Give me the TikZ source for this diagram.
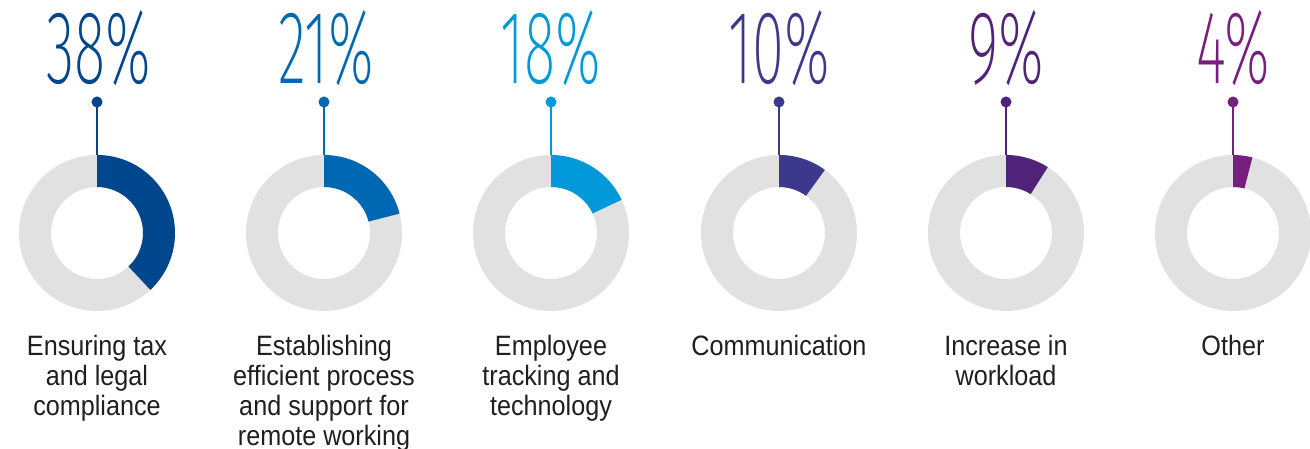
\documentclass[tikz,border=0pt]{standalone}
\usepackage{fontspec}
\setmainfont{Liberation Sans}
\newfontfamily\pctfont{Fira Sans ExtraLight}
\usepackage{xcolor}

\definecolor{taxblue}{RGB}{0,70,140}
\definecolor{processblue}{RGB}{0,104,178}
\definecolor{trackblue}{RGB}{0,152,216}
\definecolor{commviolet}{RGB}{60,56,140}
\definecolor{loadpurple}{RGB}{80,35,120}
\definecolor{otherpurple}{RGB}{118,32,125}
\definecolor{ringgray}{RGB}{225,225,225}

\begin{document}
\begin{tikzpicture}[
                x=1pt, y=1pt,
                ring/.style={fill=ringgray, even odd rule},
                pct/.style={font=\pctfont\fontsize{104}{104}\selectfont, anchor=base, inner sep=0pt, xscale=0.56},
                dot/.style={circle, inner sep=0pt, minimum size=11pt},
                stem/.style={line width=1.3pt},
                caption/.style={font=\fontsize{28}{30}\selectfont, text=black!88, align=center, anchor=north, inner sep=0pt, xscale=0.9}
                ]
                \useasboundingbox (0,-216) rectangle (1310,233);

                % Anneaux gris
                \fill[ring] (97,0) circle[radius=78pt] (97,0) circle[radius=46pt];
                \fill[ring] (324,0) circle[radius=78pt] (324,0) circle[radius=46pt];
                \fill[ring] (551,0) circle[radius=78pt] (551,0) circle[radius=46pt];
                \fill[ring] (779,0) circle[radius=78pt] (779,0) circle[radius=46pt];
                \fill[ring] (1006,0) circle[radius=78pt] (1006,0) circle[radius=46pt];
                \fill[ring] (1233,0) circle[radius=78pt] (1233,0) circle[radius=46pt];

                % Secteurs (38, 21, 18, 10, 9, 4 %)
                \fill[taxblue, shift={(97,0)}] (90:78) arc[start angle=90, end angle=-46.8, radius=78pt] -- (-46.8:46) arc[start angle=-46.8, end angle=90, radius=46pt] -- cycle;
                \fill[processblue, shift={(324,0)}] (90:78) arc[start angle=90, end angle=14.4, radius=78pt] -- (14.4:46) arc[start angle=14.4, end angle=90, radius=46pt] -- cycle;
                \fill[trackblue, shift={(551,0)}] (90:78) arc[start angle=90, end angle=25.2, radius=78pt] -- (25.2:46) arc[start angle=25.2, end angle=90, radius=46pt] -- cycle;
                \fill[commviolet, shift={(779,0)}] (90:78) arc[start angle=90, end angle=54, radius=78pt] -- (54:46) arc[start angle=54, end angle=90, radius=46pt] -- cycle;
                \fill[loadpurple, shift={(1006,0)}] (90:78) arc[start angle=90, end angle=57.6, radius=78pt] -- (57.6:46) arc[start angle=57.6, end angle=90, radius=46pt] -- cycle;
                \fill[otherpurple, shift={(1233,0)}] (90:78) arc[start angle=90, end angle=75.6, radius=78pt] -- (75.6:46) arc[start angle=75.6, end angle=90, radius=46pt] -- cycle;

                % Points et tiges
                \node[dot, fill=taxblue] (dotTax) at (97,131) {};
                \node[dot, fill=processblue] (dotProcess) at (324,131) {};
                \node[dot, fill=trackblue] (dotTrack) at (551,131) {};
                \node[dot, fill=commviolet] (dotComm) at (779,131) {};
                \node[dot, fill=loadpurple] (dotLoad) at (1006,131) {};
                \node[dot, fill=otherpurple] (dotOther) at (1233,131) {};
                \coordinate (topTax) at (97,78);
                \coordinate (topProcess) at (324,78);
                \coordinate (topTrack) at (551,78);
                \coordinate (topComm) at (779,78);
                \coordinate (topLoad) at (1006,78);
                \coordinate (topOther) at (1233,78);
                \draw[stem, taxblue] (dotTax.center) -- (topTax);
                \draw[stem, processblue] (dotProcess.center) -- (topProcess);
                \draw[stem, trackblue] (dotTrack.center) -- (topTrack);
                \draw[stem, commviolet] (dotComm.center) -- (topComm);
                \draw[stem, loadpurple] (dotLoad.center) -- (topLoad);
                \draw[stem, otherpurple] (dotOther.center) -- (topOther);

                % Pourcentages
                \node[pct, text=taxblue] (pctTax) at (99,149) {38\%};
                \node[pct, text=processblue] (pctProcess) at (326,149) {21\%};
                \node[pct, text=trackblue] (pctTrack) at (551,149) {18\%};
                \node[pct, text=commviolet] (pctComm) at (779,149) {10\%};
                \node[pct, text=loadpurple] (pctLoad) at (1006,149) {9\%};
                \node[pct, text=otherpurple] (pctOther) at (1233,149) {4\%};

                % Libellés
                \node[caption] (lblTax) at (97,-102) {Ensuring tax\\and legal\\compliance};
                \node[caption] (lblProcess) at (324,-102) {Establishing\\efficient process\\and support for\\remote working};
                \node[caption] (lblTrack) at (551,-102) {Employee\\tracking and\\technology};
                \node[caption] (lblComm) at (779,-102) {Communication};
                \node[caption] (lblLoad) at (1006,-102) {Increase in\\workload};
                \node[caption] (lblOther) at (1233,-102) {Other};
\end{tikzpicture}
\end{document}
